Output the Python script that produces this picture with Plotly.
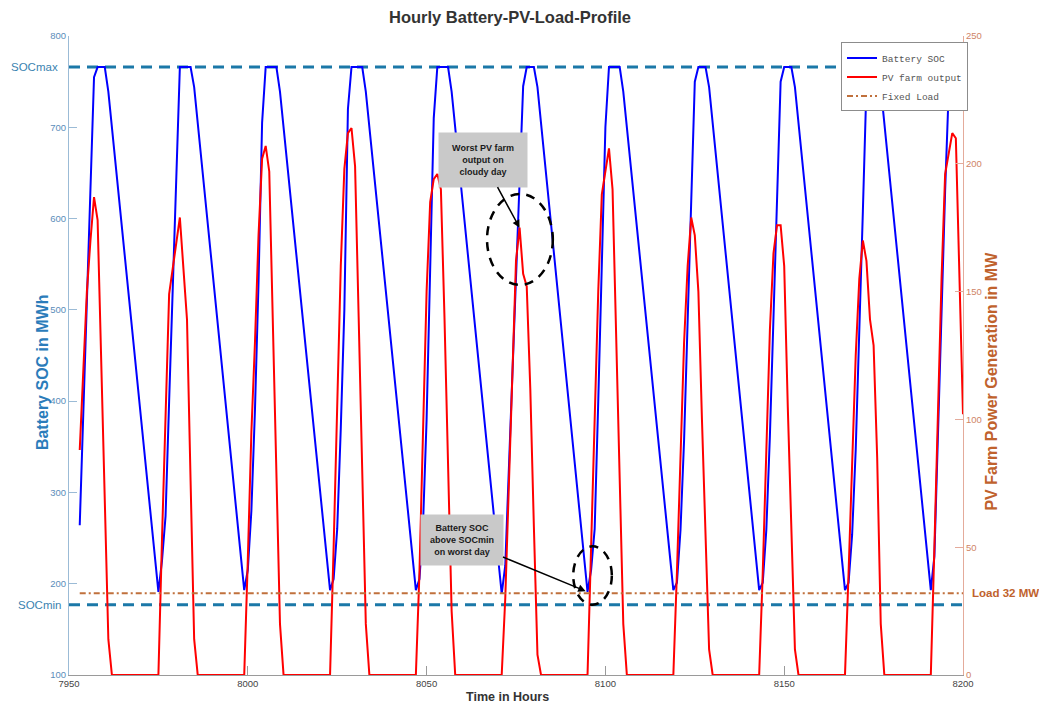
import plotly.graph_objects as go

# ---------------- data ----------------
hours = list(range(7953, 8201))

pv_d01 = [88, 119, 150, 170, 187, 178, 123, 69, 14, 0, 0, 0, 0, 0, 0, 0, 0, 0, 0, 0, 0, 0]
pv_d02 = [0, 53, 101, 149, 159, 169, 179, 159, 139, 76, 14, 0, 0, 0, 0, 0, 0, 0, 0, 0, 0, 0, 0, 0]
pv_d03 = [0, 45, 95, 130, 172, 202, 207, 197, 140, 80, 20, 0, 0, 0, 0, 0, 0, 0, 0, 0, 0, 0, 0, 0]
pv_d04 = [0, 50, 105, 160, 198, 212, 214, 199, 140, 80, 20, 0, 0, 0, 0, 0, 0, 0, 0, 0, 0, 0, 0, 0]
pv_d05 = [0, 40, 95, 150, 185, 194, 196, 190, 140, 85, 25, 0, 0, 0, 0, 0, 0, 0, 0, 0, 0, 0, 0, 0]
pv_d06 = [0, 30, 75, 125, 162, 175, 157, 152, 112, 58, 8, 0, 0, 0, 0, 0, 0, 0, 0, 0, 0, 0, 0, 0]
pv_d07 = [0, 50, 100, 150, 188, 198, 206, 190, 130, 75, 20, 0, 0, 0, 0, 0, 0, 0, 0, 0, 0, 0, 0, 0]
pv_d08 = [0, 40, 90, 130, 160, 179, 172, 150, 100, 50, 10, 0, 0, 0, 0, 0, 0, 0, 0, 0, 0, 0, 0, 0]
pv_d09 = [0, 40, 90, 135, 165, 176, 176, 160, 105, 55, 10, 0, 0, 0, 0, 0, 0, 0, 0, 0, 0, 0, 0, 0]
pv_d10 = [0, 40, 85, 125, 155, 170, 162, 139, 129, 85, 20, 0, 0, 0, 0, 0, 0, 0, 0, 0, 0, 0, 0, 0]
pv_d11 = [0, 50, 105, 155, 196, 204, 212, 210, 150, 102]

soc_d01 = [264, 389, 514, 639, 755, 766, 766, 766, 739, 700, 661, 622, 583, 544, 504, 465, 426, 387, 348, 309, 270, 230]
soc_d02 = [191, 225, 274, 400, 530, 660, 766, 766, 766, 766, 744, 705, 666, 626, 587, 547, 508, 469, 429, 390, 350, 311, 272, 232]
soc_d03 = [193, 215, 280, 390, 530, 705, 766, 766, 766, 766, 739, 700, 661, 622, 583, 544, 505, 466, 427, 388, 349, 310, 271, 232]
soc_d04 = [193, 205, 260, 370, 500, 720, 766, 766, 766, 766, 739, 700, 661, 622, 583, 544, 505, 466, 427, 388, 349, 310, 271, 232]
soc_d05 = [193, 205, 265, 380, 535, 710, 766, 766, 766, 766, 739, 700, 660, 621, 581, 542, 503, 463, 424, 385, 345, 306, 267, 228]
soc_d06 = [189, 220, 325, 430, 535, 645, 745, 766, 766, 766, 744, 705, 665, 626, 586, 547, 507, 468, 428, 389, 349, 310, 270, 231]
soc_d07 = [191, 215, 260, 400, 560, 700, 766, 766, 766, 766, 739, 700, 661, 622, 583, 544, 505, 466, 427, 388, 349, 310, 271, 232]
soc_d08 = [193, 201, 259, 357, 485, 632, 750, 766, 766, 766, 744, 705, 666, 626, 587, 547, 508, 469, 429, 390, 350, 311, 272, 232]
soc_d09 = [193, 201, 259, 362, 495, 639, 750, 766, 766, 766, 744, 705, 666, 626, 587, 547, 508, 469, 429, 390, 350, 311, 272, 232]
soc_d10 = [193, 201, 254, 347, 470, 608, 746, 766, 766, 766, 744, 705, 666, 626, 587, 547, 508, 469, 429, 390, 350, 311, 272, 232]
soc_d11 = [193, 230, 365, 500, 630, 740, 766, 766, 766, 766]

load_mw = 32
soc_max = 766
soc_min = 177
x_ticks = [7950, 8000, 8050, 8100, 8150, 8200]
soc_ticks = [100, 200, 300, 400, 500, 600, 700, 800]
pv_ticks = [0, 50, 100, 150, 200, 250]

pv = pv_d01 + pv_d02 + pv_d03 + pv_d04 + pv_d05 + pv_d06 + pv_d07 + pv_d08 + pv_d09 + pv_d10 + pv_d11
soc = soc_d01 + soc_d02 + soc_d03 + soc_d04 + soc_d05 + soc_d06 + soc_d07 + soc_d08 + soc_d09 + soc_d10 + soc_d11
assert len(pv) == len(hours) == len(soc)

# ---------------- styling ----------------
REG = "Liberation Sans, Arial, Helvetica, sans-serif"
MONO = "Liberation Mono, Courier New, monospace"
SOC_AX = "#5b8dba"
SOC_LINE = "#9bbbd6"
SOC_TITLE = "#2b7cba"
PV_AX = "#cf8466"
PV_LINE = "#e4ab9b"
PV_TITLE = "#c0622d"
REF_LINE = "#1b78a8"

fig = go.Figure()
fig.add_trace(go.Scatter(x=hours, y=soc, name="Battery SOC", mode="lines",
                         line=dict(color="#0000ff", width=2), yaxis="y"))
fig.add_trace(go.Scatter(x=hours, y=pv, name="PV farm output", mode="lines",
                         line=dict(color="#ff0000", width=2), yaxis="y2"))
fig.add_trace(go.Scatter(x=[hours[0], hours[-1]], y=[load_mw, load_mw], name="Fixed Load",
                         mode="lines", line=dict(color="#c0703c", width=2, dash="6px,3px,2px,3px"),
                         yaxis="y2"))

# SOC limits
for lvl in (soc_max, soc_min):
    fig.add_shape(type="line", xref="x", yref="y", x0=x_ticks[0], x1=x_ticks[-1], y0=lvl, y1=lvl,
                  line=dict(color=REF_LINE, width=3, dash="11px,7px"), layer="below")

# dashed ellipses
cloudy_h = 8076
worst_h = 8095
fig.add_shape(type="circle", xref="x", yref="y2", x0=8066.9, x1=8085.3, y0=152.6, y1=188.2,
              line=dict(color="black", width=2.5, dash="9px,7px"))
fig.add_shape(type="circle", xref="x", yref="y", x0=8091.0, x1=8101.8, y0=177, y1=241,
              line=dict(color="black", width=2.5, dash="9px,7px"))

ann_font = dict(family=REG, size=9, color="#1a1a1a")
fig.add_annotation(x=cloudy_h, y=pv[hours.index(cloudy_h)], xref="x", yref="y2",
                   text="<b>Worst PV farm<br>output on<br>cloudy day</b>", showarrow=True,
                   ax=-37, ay=-68, arrowhead=2, arrowsize=1, arrowwidth=1.5, arrowcolor="black",
                   bgcolor="#c9c9c9", width=86, height=52, font=ann_font, align="center", standoff=0)
fig.add_annotation(x=worst_h, y=soc[hours.index(worst_h)], xref="x", yref="y",
                   text="<b>Battery SOC<br>above SOCmin<br>on worst day</b>", showarrow=True,
                   ax=-126, ay=-52, arrowhead=2, arrowsize=1, arrowwidth=1.5, arrowcolor="black",
                   bgcolor="#c9c9c9", width=80, height=48, font=ann_font, align="center", standoff=2)

# side labels
fig.add_annotation(x=-0.010, y=soc_max, xref="paper", yref="y", text="SOCmax", showarrow=False,
                   xanchor="right", yanchor="middle", font=dict(family=REG, size=11.5, color="#3a82b0"))
fig.add_annotation(x=-0.007, y=soc_min, xref="paper", yref="y", text="SOCmin", showarrow=False,
                   xanchor="right", yanchor="middle", font=dict(family=REG, size=11.5, color="#3a82b0"))
fig.add_annotation(x=1.008, y=load_mw, xref="paper", yref="y2", text="<b>Load 32 MW</b>", showarrow=False,
                   xanchor="left", yanchor="middle", font=dict(family=REG, size=11.5, color=PV_TITLE))

# axis titles
fig.add_annotation(x=-0.0302, y=0.474, xref="paper", yref="paper", text="<b>Battery SOC in MWh</b>",
                   textangle=-90, showarrow=False, xanchor="center", yanchor="middle",
                   font=dict(family=REG, size=16, color=SOC_TITLE))
fig.add_annotation(x=1.0319, y=0.460, xref="paper", yref="paper", text="<b>PV Farm Power Generation in MW</b>",
                   textangle=-90, showarrow=False, xanchor="center", yanchor="middle",
                   font=dict(family=REG, size=16, color=PV_TITLE))
fig.add_annotation(x=0.491, y=-0.0345, xref="paper", yref="paper", text="<b>Time in Hours</b>",
                   showarrow=False, xanchor="center", yanchor="middle",
                   font=dict(family=REG, size=12.5, color="#333333"))

# page body has an 8px margin; size the figure so the plot area lands where the reference has it
fig.update_layout(
    width=1031, height=697,
    margin=dict(l=61, r=76, t=28, b=30),
    paper_bgcolor="white", plot_bgcolor="white",
    template="none",
    title=dict(text="<b>Hourly Battery-PV-Load-Profile</b>", x=0.4933, xref="paper", xanchor="center",
               y=0.987, yref="container", yanchor="middle",
               font=dict(family=REG, size=16.5, color="#333333")),
    legend=dict(x=1.0056, xanchor="right", y=0.99, yanchor="top", bgcolor="white",
                bordercolor="#8c8c8c", borderwidth=1, tracegroupgap=0,
                font=dict(family=MONO, size=9.5, color="#555555")),
    xaxis=dict(range=[x_ticks[0], x_ticks[-1]], tickvals=x_ticks, ticks="inside", ticklen=9,
               tickcolor="#9a9a9a", showline=True, linecolor="#9a9a9a", linewidth=1,
               showgrid=False, zeroline=False, tickfont=dict(family=REG, size=9.5, color="#444444")),
    yaxis=dict(range=[soc_ticks[0], soc_ticks[-1]], tickvals=soc_ticks, ticks="inside", ticklen=8,
               tickcolor=SOC_LINE, showline=True, linecolor=SOC_LINE, linewidth=1,
               showgrid=False, zeroline=False, tickfont=dict(family=REG, size=9.5, color=SOC_AX)),
    yaxis2=dict(range=[pv_ticks[0], pv_ticks[-1]], tickvals=pv_ticks, ticks="inside", ticklen=8,
                overlaying="y", side="right", anchor="x",
                tickcolor=PV_LINE, showline=True, linecolor=PV_LINE, linewidth=1,
                showgrid=False, zeroline=False, tickfont=dict(family=REG, size=9.5, color=PV_AX)),
)

fig.write_html("out.html")
